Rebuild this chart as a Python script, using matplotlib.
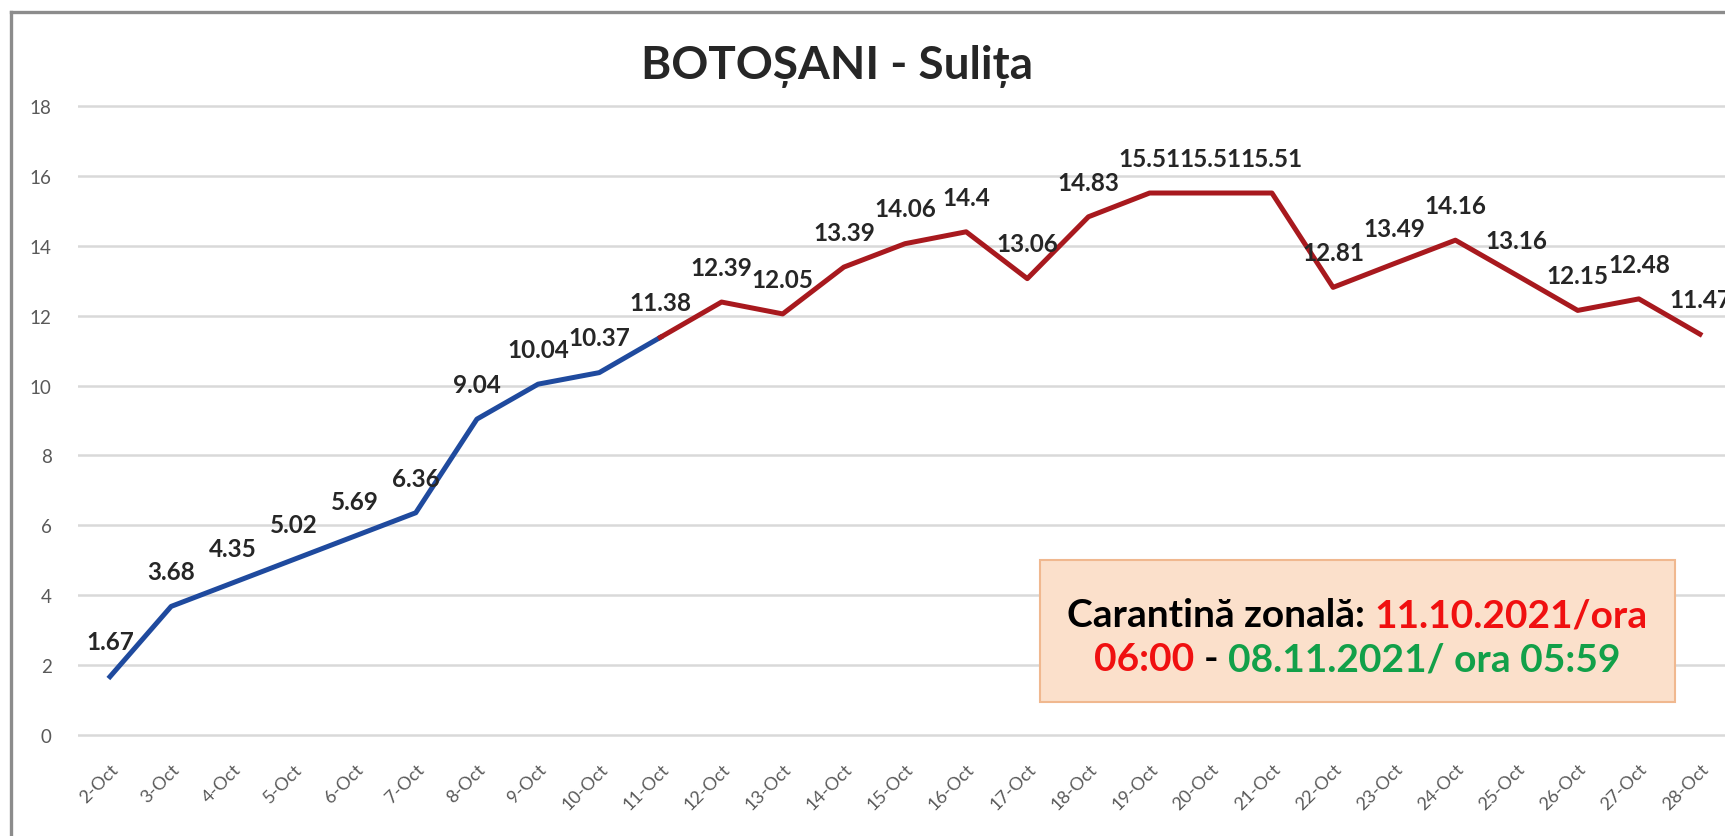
import matplotlib.pyplot as plt
import numpy as np
from matplotlib.lines import Line2D
from matplotlib.patches import Rectangle

dates = ['2-Oct', '3-Oct', '4-Oct', '5-Oct', '6-Oct', '7-Oct', '8-Oct', '9-Oct', '10-Oct',
         '11-Oct', '12-Oct', '13-Oct', '14-Oct', '15-Oct', '16-Oct', '17-Oct', '18-Oct',
         '19-Oct', '20-Oct', '21-Oct', '22-Oct', '23-Oct', '24-Oct', '25-Oct', '26-Oct',
         '27-Oct', '28-Oct']
rates = [1.67, 3.68, 4.35, 5.02, 5.69, 6.36, 9.04, 10.04, 10.37,
         11.38, 12.39, 12.05, 13.39, 14.06, 14.4, 13.06, 14.83,
         15.51, 15.51, 15.51, 12.81, 13.49, 14.16, 13.16, 12.15,
         12.48, 11.47]
quarantine_start = '11-Oct'

title = 'BOTOȘANI - Sulița'
note_line1 = [('Carantină zonală:', 'black'), ('11.10.2021/ora', '#F01010')]
note_line2 = [('06:00', '#F01010'), ('-', 'black'), ('08.11.2021/ ora 05:59', '#12A049')]

W, H = 1725, 837
FONT = ['Lato', 'DejaVu Sans']
blue = '#1F4A9E'
red = '#A8191E'

fig = plt.figure(figsize=(W / 100, H / 100), dpi=100)

# plot area in pixels: y=0 at 736, y=18 at 107
ypad = 0.1
ppu = (736 - 107) / 18
bottom_px = 736 + ypad * ppu
top_px = 107 - ypad * ppu
ax = fig.add_axes([78 / W, (H - bottom_px) / H, 1 - 78 / W, (bottom_px - top_px) / H])

x = np.arange(len(dates))
y = np.array(rates)
k = dates.index(quarantine_start)
ax.plot(x[:k + 1], y[:k + 1], color=blue, lw=3.6, solid_joinstyle='round', zorder=3)
ax.plot(x[k:], y[k:], color=red, lw=3.6, solid_joinstyle='round', zorder=3)

for xi, v in zip(x, rates):
    ax.annotate(f'{v:g}', (xi, v), xytext=(0, 25), textcoords='offset points',
                ha='center', va='center', fontsize=17.5, fontweight='bold',
                color='#262626', family=FONT, zorder=4)

# x: index 0 at px 110, index 26 at px 1700
step = (1700 - 110) / (len(dates) - 1)
ax.set_xlim(-(110 - 78) / step, len(dates) - 1 + (W - 1700) / step)
ax.set_ylim(-ypad, 18 + ypad)
ax.set_yticks(range(0, 19, 2))
ax.set_xticks(x)
ax.set_xticklabels(dates, rotation=45, ha='right', rotation_mode='anchor',
                   fontsize=13, color='#595959', family=FONT)
for lab in ax.get_yticklabels():
    lab.set_family(FONT)
ax.tick_params(axis='y', length=0, pad=19, labelsize=13.5, labelcolor='#595959')
ax.tick_params(axis='x', length=0, pad=16)
ax.grid(axis='y', color='#D9D9D9', lw=1.8)
ax.set_axisbelow(True)
for s in ax.spines.values():
    s.set_visible(False)

fig.text(837 / W, 1 - 66 / H, title, ha='center', va='center', fontsize=33,
         fontweight='bold', color='#262626', family=FONT)

# outer frame (left and top edges visible)
fig.add_artist(Line2D([11 / W, 11 / W], [0, 1 - 13 / H], transform=fig.transFigure,
                      color='#8C8C8C', lw=2.4))
fig.add_artist(Line2D([11 / W, 1], [1 - 13 / H, 1 - 13 / H], transform=fig.transFigure,
                      color='#8C8C8C', lw=2.4))

# quarantine note box
fig.add_artist(Rectangle((1040 / W, 1 - 703 / H), (1675 - 1040) / W, (703 - 561) / H,
                         transform=fig.transFigure, facecolor='#FBE0CB',
                         edgecolor='#F0B88F', lw=1.5))

renderer = fig.canvas.get_renderer()
style = dict(fontsize=28, fontweight='bold', family=FONT, va='center', ha='left')


def text_width(s):
    t = fig.text(0, 0, s, **style)
    w = t.get_window_extent(renderer).width
    t.remove()
    return w


gap = text_width('x x') - text_width('xx')


def colored_line(parts, cx, cy):
    texts = [fig.text(0, 1 - cy / H, s, color=c, **style) for s, c in parts]
    widths = [t.get_window_extent(renderer).width for t in texts]
    pos = cx - (sum(widths) + gap * (len(parts) - 1)) / 2
    for t, w in zip(texts, widths):
        t.set_x(pos / W)
        pos += w + gap


colored_line(note_line1, 1357, 616)
colored_line(note_line2, 1357, 660)

fig.savefig('out.png', dpi=100)
